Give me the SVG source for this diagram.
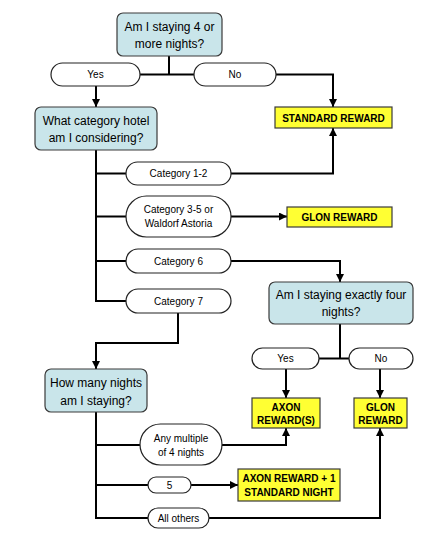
<svg xmlns="http://www.w3.org/2000/svg" width="443" height="539" viewBox="0 0 443 539">
<defs>
<marker id="ah" viewBox="0 0 10 10" refX="10" refY="5" markerWidth="8" markerHeight="8" markerUnits="userSpaceOnUse" orient="auto"><path d="M0,0 L10,5 L0,10 z" fill="#000"/></marker>
<style>
.dec{fill:#C9E5EA;stroke:#3a3a3a;stroke-width:1.2}
.rew{fill:#FFFF33;stroke:#3a3a3a;stroke-width:1.2}
.pill{fill:#fff;stroke:#222;stroke-width:1.2}
.dt{font-family:"Liberation Sans",Arial,sans-serif;font-size:12px;fill:#000;text-anchor:middle}
.pt{font-family:"Liberation Sans",Arial,sans-serif;font-size:10px;fill:#000;text-anchor:middle}
.rt{font-family:"Liberation Sans",Arial,sans-serif;font-size:10px;font-weight:bold;fill:#000;text-anchor:middle}
.ln{fill:none;stroke:#000;stroke-width:2}
.ar{fill:none;stroke:#000;stroke-width:2;marker-end:url(#ah)}
</style>
</defs>
<rect width="443" height="539" fill="#fff"/>
<g id="connectors">
<path class="ln" d="M169,56 V74.5"/>
<path class="ln" d="M140,74.5 H194"/>
<path class="ar" d="M276,74.5 H333 V107"/>
<path class="ar" d="M96,86 V107"/>
<path class="ln" d="M96,150 V301 H126"/>
<path class="ln" d="M96,173.5 H126"/>
<path class="ar" d="M231,173.5 H333 V128"/>
<path class="ln" d="M96,216.5 H126"/>
<path class="ar" d="M231,216.5 H287"/>
<path class="ln" d="M96,261 H126"/>
<path class="ar" d="M231,261 H340 V282"/>
<path class="ar" d="M178,313 V343 H96 V369"/>
<path class="ln" d="M340,324 V358.5"/>
<path class="ln" d="M319,358.5 H349"/>
<path class="ar" d="M286,369 V398"/>
<path class="ar" d="M380,369 V398"/>
<path class="ln" d="M96,412 V518 H148"/>
<path class="ln" d="M96,445 H140"/>
<path class="ar" d="M222,445 H286 V428"/>
<path class="ln" d="M96,485 H148"/>
<path class="ar" d="M191,485 H238"/>
<path class="ar" d="M209,518 H380 V428"/>
</g>
<g id="q1"><rect class="dec" x="117" y="13" width="105" height="43" rx="6"/><text class="dt" x="169.5" y="31">Am I staying 4 or</text><text class="dt" x="169.5" y="48">more nights?</text></g>
<g id="yes1"><rect class="pill" x="51" y="63" width="89" height="23" rx="11.5"/><text class="pt" x="95.5" y="78">Yes</text></g>
<g id="no1"><rect class="pill" x="194" y="63" width="82" height="23" rx="11.5"/><text class="pt" x="235" y="78">No</text></g>
<g id="standard"><rect class="rew" x="275" y="107" width="117" height="21"/><text class="rt" x="333.5" y="121.5">STANDARD REWARD</text></g>
<g id="q2"><rect class="dec" x="35" y="107" width="122" height="43" rx="6"/><text class="dt" x="96" y="125">What category hotel</text><text class="dt" x="96" y="142">am I considering?</text></g>
<g id="cat12"><rect class="pill" x="126" y="162" width="105" height="23" rx="11.5"/><text class="pt" x="178.5" y="177">Category 1-2</text></g>
<g id="cat35"><rect class="pill" x="126" y="196" width="105" height="41" rx="20.5"/><text class="pt" x="178.5" y="213">Category 3-5 or</text><text class="pt" x="178.5" y="227">Waldorf Astoria</text></g>
<g id="glon1"><rect class="rew" x="287" y="207" width="105" height="20"/><text class="rt" x="339.5" y="221">GLON REWARD</text></g>
<g id="cat6"><rect class="pill" x="126" y="249" width="105" height="24" rx="12"/><text class="pt" x="178.5" y="264.5">Category 6</text></g>
<g id="cat7"><rect class="pill" x="126" y="289" width="105" height="24" rx="12"/><text class="pt" x="178.5" y="304.5">Category 7</text></g>
<g id="q3"><rect class="dec" x="269" y="282" width="144" height="42" rx="6"/><text class="dt" x="341" y="299">Am I staying exactly four</text><text class="dt" x="341" y="316">nights?</text></g>
<g id="yes2"><rect class="pill" x="252" y="348" width="67" height="21" rx="10.5"/><text class="pt" x="285.5" y="362">Yes</text></g>
<g id="no2"><rect class="pill" x="349" y="348" width="64" height="21" rx="10.5"/><text class="pt" x="381" y="362">No</text></g>
<g id="axon"><rect class="rew" x="252" y="398" width="68" height="30"/><text class="rt" x="286" y="410.5">AXON</text><text class="rt" x="286" y="424">REWARD(S)</text></g>
<g id="glon2"><rect class="rew" x="354" y="398" width="53" height="30"/><text class="rt" x="380.5" y="410.5">GLON</text><text class="rt" x="380.5" y="424">REWARD</text></g>
<g id="q4"><rect class="dec" x="45" y="369" width="102" height="43" rx="6"/><text class="dt" x="96" y="387">How many nights</text><text class="dt" x="96" y="405">am I staying?</text></g>
<g id="mult4"><rect class="pill" x="140" y="424" width="82" height="41" rx="20.5"/><text class="pt" x="181" y="442">Any multiple</text><text class="pt" x="181" y="456">of 4 nights</text></g>
<g id="five"><rect class="pill" x="148" y="477" width="43" height="16" rx="8"/><text class="pt" x="169.5" y="488.5">5</text></g>
<g id="axonplus"><rect class="rew" x="238" y="469" width="102" height="32"/><text class="rt" x="289" y="482">AXON REWARD + 1</text><text class="rt" x="289" y="496">STANDARD NIGHT</text></g>
<g id="others"><rect class="pill" x="148" y="508" width="61" height="20" rx="10"/><text class="pt" x="178.5" y="521.5">All others</text></g>
</svg>
